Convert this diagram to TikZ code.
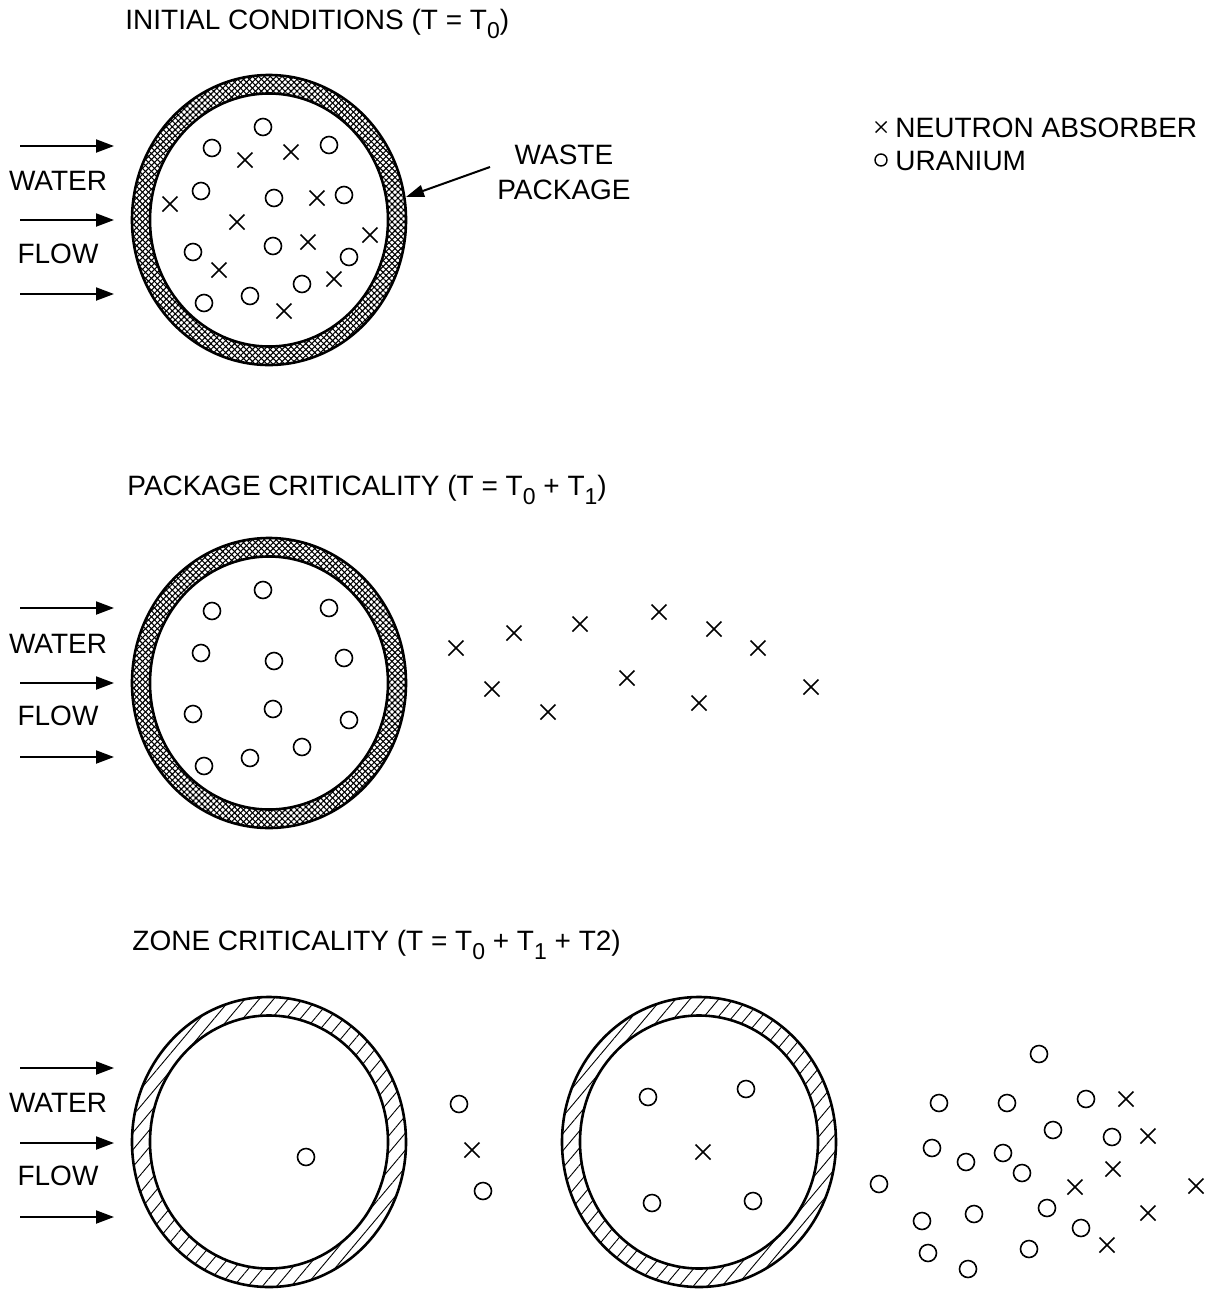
\documentclass[tikz,border=0pt]{standalone}
\usepackage{fontspec}
\setmainfont{Liberation Sans}
\usetikzlibrary{arrows.meta,patterns.meta}
\newcommand\Tsb[1]{T\raisebox{-4.5pt}{\fontsize{11.5}{12}\selectfont #1}}
\tikzset{
  lbl/.style={font=\fontsize{14}{17.5}\selectfont, inner sep=0pt},
  mk/.style={line width=0.8pt},
  shell/.style={line width=1.3pt},
  flow/.style={line width=1pt,-{Triangle[length=9pt,width=6.5pt]}},
  ur/.pic={\draw[mk] (0,0) circle[radius=8.5];},
  nx/.pic={\draw[mk] (-7.5,-7.5)--(7.5,7.5) (-7.5,7.5)--(7.5,-7.5);},
  urs/.pic={\draw[line width=0.7pt] (0,0) circle[radius=6];},
  nxs/.pic={\draw[line width=0.7pt] (-5.5,-5.5)--(5.5,5.5) (-5.5,5.5)--(5.5,-5.5);},
  xh1/.style={pattern={Lines[angle=45,distance=2.1pt,line width=0.55pt]}},
  xh2/.style={pattern={Lines[angle=-45,distance=2.1pt,line width=0.55pt]}},
  dh/.style={pattern={Lines[angle=50,distance=5.5pt,line width=0.45pt]}}
}
\newcommand\shellfill[3]{%
  \path[even odd rule,#3] (#1,#2) ellipse[x radius=137,y radius=145]
    (#1,#2) ellipse[x radius=119,y radius=126.5];}
\newcommand\shelllines[2]{%
  \draw[shell] (#1,#2) ellipse[x radius=137,y radius=145];
  \draw[shell] (#1,#2) ellipse[x radius=119,y radius=126.5];}
\begin{document}
\begin{tikzpicture}[x=0.5pt,y=-0.5pt]
\useasboundingbox (0,0) rectangle (1214,1291);

% ---------- titles ----------
\node[lbl,anchor=base west] (t1) at (125,29) {INITIAL CONDITIONS (T = \Tsb{0})};
\node[lbl,anchor=base west] (t2) at (127,495) {PACKAGE CRITICALITY (T = \Tsb{0} + \Tsb{1})};
\node[lbl,anchor=base west] (t3) at (132,950) {ZONE CRITICALITY (T = \Tsb{0} + \Tsb{1} + T2)};

% ---------- flow arrows and labels ----------
\foreach \yw/\yf/\ya/\yb/\yc/\k in {190/263/146/220/294/1, 653/725/608/683/757/2, 1112/1185/1068/1143/1217/3}{
  \node[lbl,anchor=base] (w\k) at (58,\yw) {WATER};
  \node[lbl,anchor=base] (f\k) at (58,\yf) {FLOW};
  \coordinate (a\k s) at (20,\ya); \coordinate (a\k e) at (114,\ya);
  \coordinate (b\k s) at (20,\yb); \coordinate (b\k e) at (114,\yb);
  \coordinate (c\k s) at (20,\yc); \coordinate (c\k e) at (114,\yc);
  \draw[flow] (a\k s) -- (a\k e);
  \draw[flow] (b\k s) -- (b\k e);
  \draw[flow] (c\k s) -- (c\k e);
}

% ---------- packages ----------
\shellfill{269}{220}{xh1}
\shellfill{269}{220}{xh2}
\shelllines{269}{220}

\shellfill{269}{683}{xh1}
\shellfill{269}{683}{xh2}
\shelllines{269}{683}

\shellfill{269}{1142}{dh}
\shelllines{269}{1142}

\shellfill{699}{1142}{dh}
\shelllines{699}{1142}

% ---------- waste package label ----------
\node[lbl,align=center] (wp) at (564,172) {WASTE\\PACKAGE};
\coordinate (wps) at (490,167);
\coordinate (wpt) at (406,197);
\draw[line width=1pt,-{Triangle[length=9pt,width=6pt]}] (wps) -- (wpt);

% ---------- legend ----------
\pic at (881,127) {nxs};
\node[lbl,anchor=base west] (lg1) at (895,137) {NEUTRON ABSORBER};
\pic at (881,160) {urs};
\node[lbl,anchor=base west] (lg2) at (895,170) {URANIUM};

% ---------- initial conditions contents ----------
\foreach \p in {(263,127),(212,148),(329,145),(201,191),(274,198),(344,195),
  (193,252),(273,246),(349,257),(302,284),(204,303),(250,296)}
  \pic at \p {ur};
\foreach \p in {(245,160),(291,152),(170,204),(317,198),(237,222),(308,242),
  (370,235),(219,270),(334,279),(284,311)}
  \pic at \p {nx};

% ---------- package criticality contents ----------
\foreach \p in {(263,590),(212,611),(329,608),(201,653),(274,661),(344,658),
  (193,714),(273,709),(349,720),(302,747),(204,766),(250,758)}
  \pic at \p {ur};
\foreach \p in {(456,648),(514,633),(580,624),(659,612),(714,629),(758,648),
  (492,689),(548,712),(627,678),(699,703),(811,687)}
  \pic at \p {nx};

% ---------- zone criticality contents ----------
\foreach \p in {(306,1157),(459,1104),(483,1191),
  (648,1097),(746,1089),(652,1203),(753,1201),
  (1039,1054),(939,1103),(1007,1103),(1086,1099),(1053,1130),(1112,1137),
  (932,1148),(966,1162),(1003,1153),(1022,1173),(879,1184),(1047,1208),
  (1081,1228),(974,1214),(922,1221),(928,1253),(1029,1249),(968,1269)}
  \pic at \p {ur};
\foreach \p in {(472,1150),(703,1152),
  (1126,1099),(1148,1136),(1113,1169),(1075,1187),(1196,1186),(1148,1213),(1107,1245)}
  \pic at \p {nx};
\end{tikzpicture}
\end{document}
